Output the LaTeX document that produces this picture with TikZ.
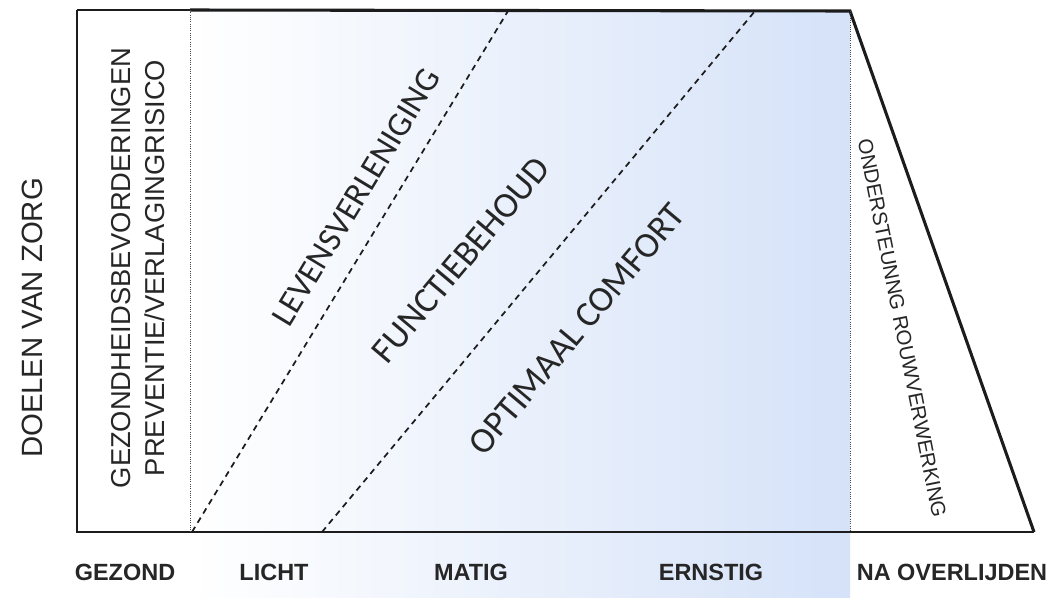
\documentclass[tikz,border=0pt]{standalone}
\usepackage{fontspec}
\setmainfont{Liberation Sans}
\newfontfamily\calibri{Carlito}
\usetikzlibrary{positioning}
\definecolor{zline}{HTML}{1C1C1C}
\definecolor{ztext}{HTML}{262626}
\definecolor{zblue}{HTML}{D5E2F8}

\begin{document}
\begin{tikzpicture}[x=0.75pt,y=-0.75pt,
  frame/.style={draw=zline,line width=1.5pt},
  heavy/.style={draw=zline,line width=2.3pt,line join=miter},
  split/.style={draw=zline!80,line width=0.7pt,densely dotted},
  border/.style={draw=zline,line width=1.3pt,dash pattern=on 4.5pt off 3.6pt},
  goal/.style={text=ztext,inner sep=0pt,font=\calibri\fontsize{27}{30}\selectfont},
  side/.style={text=ztext,inner sep=0pt,align=center,font=\fontsize{20.5}{25.5}\selectfont},
  phase/.style={text=ztext,inner sep=0pt,font=\bfseries\fontsize{17.6}{20}\selectfont}]
\useasboundingbox (0,0) rectangle (1053,597);
\coordinate (tl) at (77,10);
\coordinate (tm) at (190,10);
\coordinate (tr) at (850,11);
\coordinate (bl) at (77,532);
\coordinate (bm) at (190,532);
\coordinate (br) at (850,532);
\coordinate (end) at (1034,532);
\coordinate (d1b) at (192,532);
\coordinate (d1t) at (508,11);
\coordinate (d2b) at (322,532);
\coordinate (d2t) at (755,11);
\shade[left color=white,middle color=zblue!22!white,right color=zblue] (190,11) rectangle (850,597);
\draw[frame,line width=1.1pt] (tm) -- (tl);
\draw[frame] (tl) -- (bl) -- (end);
\draw[heavy] (tm) -- (tr) -- (end);
\draw[split] (tm) -- (bm);
\draw[split] (tr) -- (br);
\draw[border] (d1b) -- (d1t);
\draw[border] (d2b) -- (d2t);
\node[side,font=\fontsize{22}{26}\selectfont,rotate=90] (doelen) at (32,318) {DOELEN VAN ZORG};
\node[side,rotate=90] (preventie) at (138,268) {GEZONDHEIDSBEVORDERINGEN\\PREVENTIE/VERLAGINGRISICO};
\node[goal,font=\calibri\fontsize{25.5}{30}\selectfont,rotate=58.8] (levens) at (356,197) {LEVENSVERLENIGING};
\node[goal,rotate=50] (functie) at (461,260) {FUNCTIEBEHOUD};
\node[goal,rotate=50] (comfort) at (577,329) {OPTIMAAL COMFORT};
\node[side,font=\fontsize{15.4}{18}\selectfont,rotate=-78.75] (rouw) at (902,328) {ONDERSTEUNNG ROUWVERWERKING};
\node[phase] (gezond) at (125,572) {GEZOND};
\node[phase] (licht) at (274,572) {LICHT};
\node[phase] (matig) at (471,572) {MATIG};
\node[phase] (ernstig) at (711,572) {ERNSTIG};
\node[phase] (overlijden) at (952,572) {NA OVERLIJDEN};
\end{tikzpicture}
\end{document}
